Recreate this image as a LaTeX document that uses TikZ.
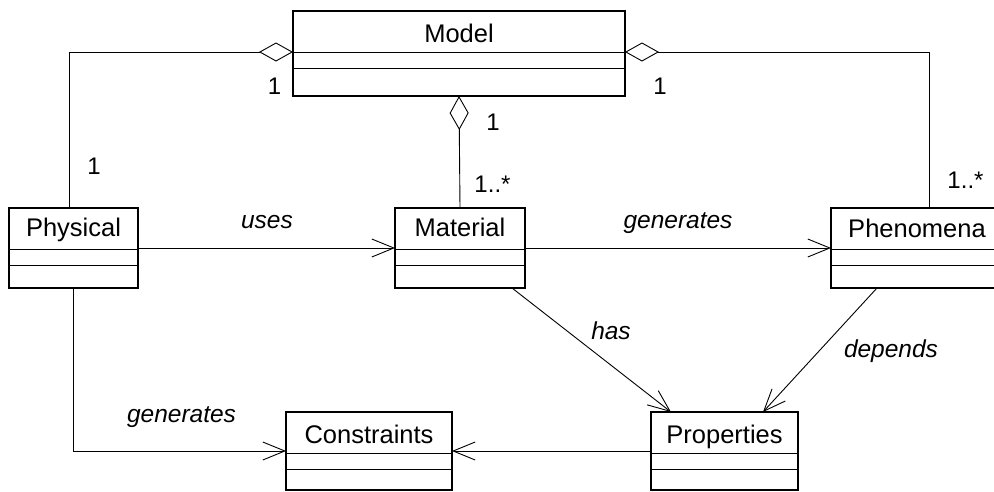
\documentclass[tikz,border=0pt]{standalone}
\usepackage{fontspec}
\setmainfont{Liberation Sans}
\usetikzlibrary{arrows.meta,calc}
\begin{document}
\begin{tikzpicture}[x=1pt,y=-1pt,
  cls/.style={draw, line width=1.1pt, inner sep=0pt, outer sep=0pt},
  clsname/.style={anchor=base, inner sep=0pt, font=\fontsize{25.5pt}{30pt}\selectfont},
  mult/.style={anchor=base, inner sep=0pt, font=\fontsize{24pt}{28pt}\selectfont},
  rolelbl/.style={anchor=base, inner sep=0pt, font=\fontsize{24.5pt}{28pt}\selectfont\itshape},
  divider/.style={line width=1pt},
  conn/.style={line width=0.9pt},
  agg/.style={conn, {Diamond[open, length=34pt, width=19pt, line width=0.9pt]}-},
  assoc/.style={conn, -{Straight Barb[length=22pt, width=18pt, line width=0.9pt]}, line join=miter}
]
\useasboundingbox (0,0) rectangle (994,491);
\clip (0,0) rectangle (994,491);
\fill[white] (0,0) rectangle (994,491);

% class boxes
\node[cls, minimum width=332pt, minimum height=85pt] (model) at (459,53.5) {};
\node[cls, minimum width=129pt, minimum height=80pt] (phys) at (73.5,248) {};
\node[cls, minimum width=130pt, minimum height=80pt] (mat) at (460,248) {};
\node[cls, minimum width=179pt, minimum height=80pt] (phen) at (920.5,248) {};
\node[cls, minimum width=166pt, minimum height=78pt] (cons) at (369,451) {};
\node[cls, minimum width=147pt, minimum height=78pt] (prop) at (724.5,451) {};

% dividers
\foreach \b in {model,phys,mat,phen,cons,prop}{
  \draw[divider] ($(\b.north west)+(0,41)$) -- ($(\b.north east)+(0,41)$);
  \draw[divider] ($(\b.north west)+(0,57)$) -- ($(\b.north east)+(0,57)$);
}

% class names
\node[clsname] (modelT) at (459,42) {Model};
\node[clsname] (physT) at (73.5,236) {Physical};
\node[clsname] (matT) at (460,236) {Material};
\node[clsname] (phenT) at (917,237) {Phenomena};
\node[clsname] (consT) at (369,443) {Constraints};
\node[clsname] (propT) at (724.5,443) {Properties};

% aggregations
\draw[agg] ($(model.north west)+(0,41)$) -| ([xshift=-4.5pt]phys.north);
\draw[agg] (model.south) -- (mat.north);
\draw[agg] ($(model.north east)+(0,41)$) -| ([xshift=8.5pt]phen.north);

% associations
\draw[assoc] (phys) -- (mat);
\draw[assoc] (mat) -- (phen);
\draw[assoc] ($(mat.south)+(52,0)$) -- ($(prop.north)+(-53.5,0)$);
\draw[assoc] ($(phen.south)+(-43.5,0)$) -- ($(prop.north)+(38.5,0)$);
\draw[assoc] (prop) -- (cons);
\draw[assoc] ([xshift=-0.5pt]phys.south) |- (cons.west);

% multiplicities
\node[mult] (m1) at (274.5,94) {1};
\node[mult] (m2) at (94,174) {1};
\node[mult] (m3) at (493,130) {1};
\node[mult] (m4) at (492.5,192) {1..*};
\node[mult] (m5) at (660,94) {1};
\node[mult] (m6) at (965.5,188) {1..*};

% role labels
\node[rolelbl] (l1) at (267,228) {uses};
\node[rolelbl] (l2) at (678,228) {generates};
\node[rolelbl] (l3) at (611,339) {has};
\node[rolelbl] (l4) at (891,357) {depends};
\node[rolelbl] (l5) at (181.5,422) {generates};
\end{tikzpicture}
\end{document}
